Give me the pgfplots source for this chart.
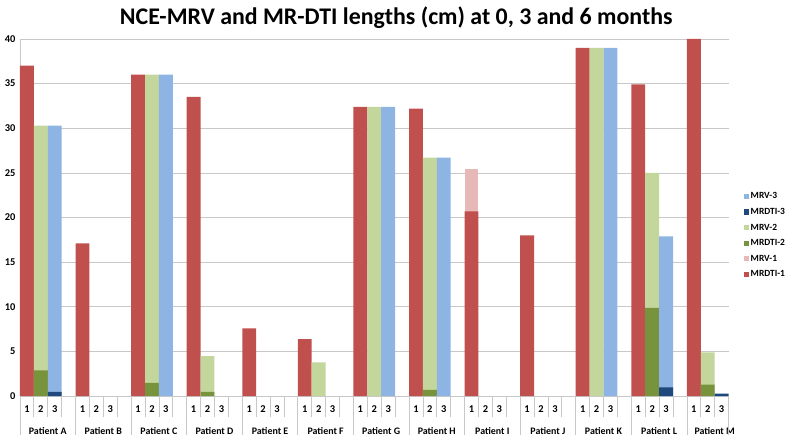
\documentclass[border=0pt]{standalone}
\usepackage{pgfplots}
\pgfplotsset{compat=1.18}
\usepackage{fontspec}
\setmainfont{Carlito}
\definecolor{cRed}{HTML}{C0504D}
\definecolor{cPink}{HTML}{E6B9B8}
\definecolor{cLGreen}{HTML}{C3D69B}
\definecolor{cDGreen}{HTML}{77933C}
\definecolor{cLBlue}{HTML}{8EB4E3}
\definecolor{cDBlue}{HTML}{1F497D}
\definecolor{cGrid}{HTML}{C8C8C8}
\begin{document}
\begin{tikzpicture}[x=1bp,y=1bp]
\path (0,0) rectangle (787,436);
\node[font=\bfseries\fontsize{24}{26}\selectfont] at (397,418) {NCE-MRV and MR-DTI lengths (cm) at 0, 3 and 6 months};
\begin{axis}[
  at={(20bp,39bp)}, anchor=south west,
  scale only axis, width=710bp, height=358bp,
  xmin=-0.5, xmax=50.5, ymin=0, ymax=40,
  ytick={0,5,...,40},
  ymajorgrids, grid style={cGrid, line width=0.8pt},
  axis line style={cGrid, line width=0.8pt},
  axis x line*=bottom, axis y line*=left,
  y axis line style={cGrid},
  major tick length=0pt,
  tick style={draw=none},
  yticklabel style={font=\bfseries\fontsize{10.5}{11}\selectfont, xshift=-1bp},
  /pgf/number format/assume math mode=true,
  xtick={0,1,2,4,5,6,8,9,10,12,13,14,16,17,18,20,21,22,24,25,26,28,29,30,32,33,34,36,37,38,40,41,42,44,45,46,48,49,50},
  xticklabels={1,2,3,1,2,3,1,2,3,1,2,3,1,2,3,1,2,3,1,2,3,1,2,3,1,2,3,1,2,3,1,2,3,1,2,3,1,2,3},
  xticklabel style={font=\bfseries\fontsize{10.5}{11}\selectfont, yshift=-5.5bp},
  extra x ticks={1.5,5.5,9.5,13.5,17.5,21.5,25.5,29.5,33.5,37.5,41.5,45.5,49.5},
  extra x tick labels={Patient A,Patient B,Patient C,Patient D,Patient E,Patient F,Patient G,Patient H,Patient I,Patient J,Patient K,Patient L,Patient M},
  extra x tick style={xticklabel style={font=\bfseries\fontsize{10}{11}\selectfont, yshift=-22bp}, grid=none},
  ybar, bar width=1, bar shift=0pt,
  every axis plot/.append style={draw=none, forget plot},
  clip=false,
  legend style={at={(1.021,0.45)}, anchor=west, draw=none, fill=none, font=\bfseries\fontsize{9.5}{10}\selectfont, row sep=4pt, inner sep=0pt, /tikz/every even column/.append style={column sep=2pt}},
  legend cell align=left,
  legend image code/.code={\fill[#1] (0cm,-0.09cm) rectangle (0.18cm,0.09cm);},
]
% slot 1: MRV-1 behind, MRDTI-1 front
\addplot[fill=cPink] coordinates {(32,25.4)};
\addplot[fill=cRed] coordinates {(0,37) (4,17.1) (8,36) (12,33.5) (16,7.6) (20,6.4) (24,32.4) (28,32.2) (32,20.7) (36,18.0) (40,39) (44,34.9) (48,40)};
% slot 2
\addplot[fill=cLGreen] coordinates {(1,30.3) (9,36) (13,4.5) (21,3.8) (25,32.4) (29,26.7) (41,39) (45,25) (49,4.9)};
\addplot[fill=cDGreen] coordinates {(1,2.9) (9,1.5) (13,0.5) (29,0.7) (45,9.9) (49,1.3)};
% slot 3
\addplot[fill=cLBlue] coordinates {(2,30.3) (10,36) (26,32.4) (30,26.7) (42,39) (46,17.9)};
\addplot[fill=cDBlue] coordinates {(2,0.5) (46,1.0) (50,0.3)};
% separators
\pgfplotsinvokeforeach{0,4,8,12,16,20,24,28,32,36,40,44,48}{
  \draw[cGrid, line width=0.8pt] (axis cs:#1+0.5,0) -- ++(0pt,-21bp);
  \draw[cGrid, line width=0.8pt] (axis cs:#1+1.5,0) -- ++(0pt,-21bp);
}
\pgfplotsinvokeforeach{0,4,8,12,16,20,24,28,32,36,40,44}{
  \draw[cGrid, line width=0.8pt] (axis cs:#1+2.5,0) -- ++(0pt,-21bp);
}
\pgfplotsinvokeforeach{-0.5,3.5,7.5,11.5,15.5,19.5,23.5,27.5,31.5,35.5,39.5,43.5,47.5,50.5}{
  \draw[cGrid, line width=0.8pt] (axis cs:#1,0) -- ++(0pt,-39bp);
}
\addlegendimage{fill=cLBlue, draw=none}\addlegendentry{MRV-3}
\addlegendimage{fill=cDBlue, draw=none}\addlegendentry{MRDTI-3}
\addlegendimage{fill=cLGreen, draw=none}\addlegendentry{MRV-2}
\addlegendimage{fill=cDGreen, draw=none}\addlegendentry{MRDTI-2}
\addlegendimage{fill=cPink, draw=none}\addlegendentry{MRV-1}
\addlegendimage{fill=cRed, draw=none}\addlegendentry{MRDTI-1}
\end{axis}
\end{tikzpicture}
\end{document}
